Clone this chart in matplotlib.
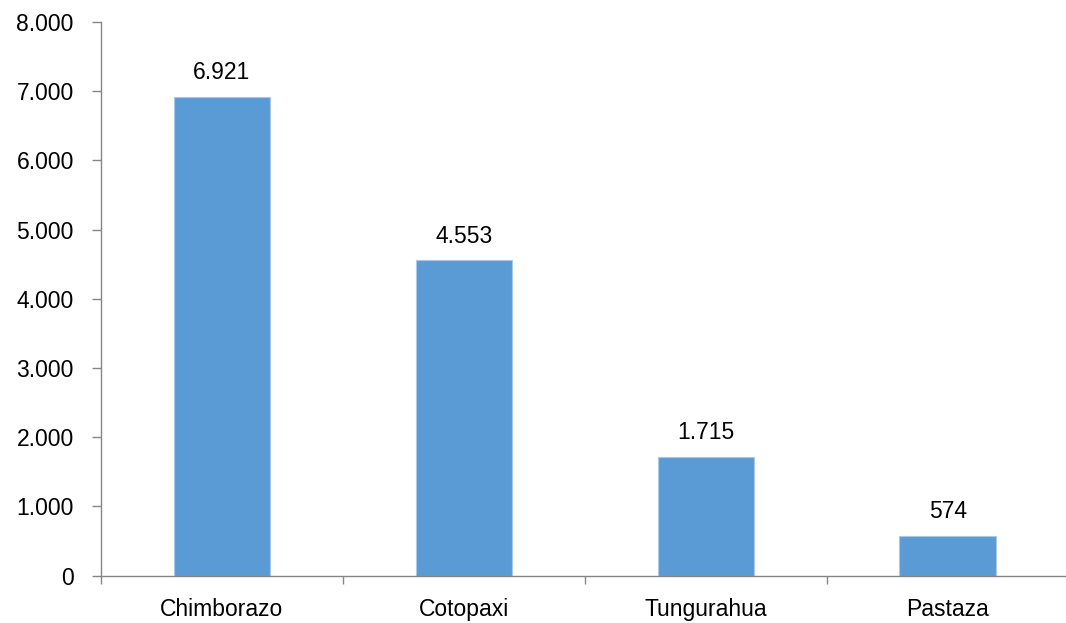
import matplotlib.pyplot as plt
from matplotlib.ticker import FuncFormatter, FixedLocator
import numpy as np

provincias = ['Chimborazo', 'Cotopaxi', 'Tungurahua', 'Pastaza']
valores = [6921, 4553, 1715, 574]

def miles(v, pos=None):
	return '{:,.0f}'.format(v).replace(',', '.')

plt.rcParams['font.family'] = ['Liberation Sans', 'DejaVu Sans']

fig = plt.figure(figsize=(10.66, 6.23), dpi=100)
ax = fig.add_axes([0.0947, 0.0762, 0.908, 0.8885])

x = np.arange(len(provincias))
bars = ax.bar(x, valores, width=0.4, color='#5B9BD5', edgecolor='#A9C8EA', linewidth=0.8, zorder=2)

for b, v in zip(bars, valores):
	ax.annotate(miles(v), (b.get_x() + b.get_width() / 2, v), xytext=(0, 9),
				textcoords='offset points', ha='center', va='bottom', fontsize=16.5, color='#000000')

ax.set_xlim(-0.5, 3.5)
ax.set_ylim(0, 8000)
ax.set_yticks(np.arange(0, 8001, 1000))
ax.yaxis.set_major_formatter(FuncFormatter(miles))
ax.set_xticks(x)
ax.set_xticklabels(provincias)
ax.xaxis.set_minor_locator(FixedLocator([-0.5, 0.5, 1.5, 2.5, 3.5]))

for s in ['top', 'right']:
	ax.spines[s].set_visible(False)
for s in ['left', 'bottom']:
	ax.spines[s].set_color('#868686')
	ax.spines[s].set_linewidth(1.0)

ax.tick_params(axis='y', length=6.5, width=1.0, color='#868686', pad=13, labelsize=16.5)
ax.tick_params(axis='x', which='major', length=0, pad=16.5, labelsize=16.5)
ax.tick_params(axis='x', which='minor', length=6, width=1.0, color='#868686')

fig.savefig('out.png', dpi=100)
